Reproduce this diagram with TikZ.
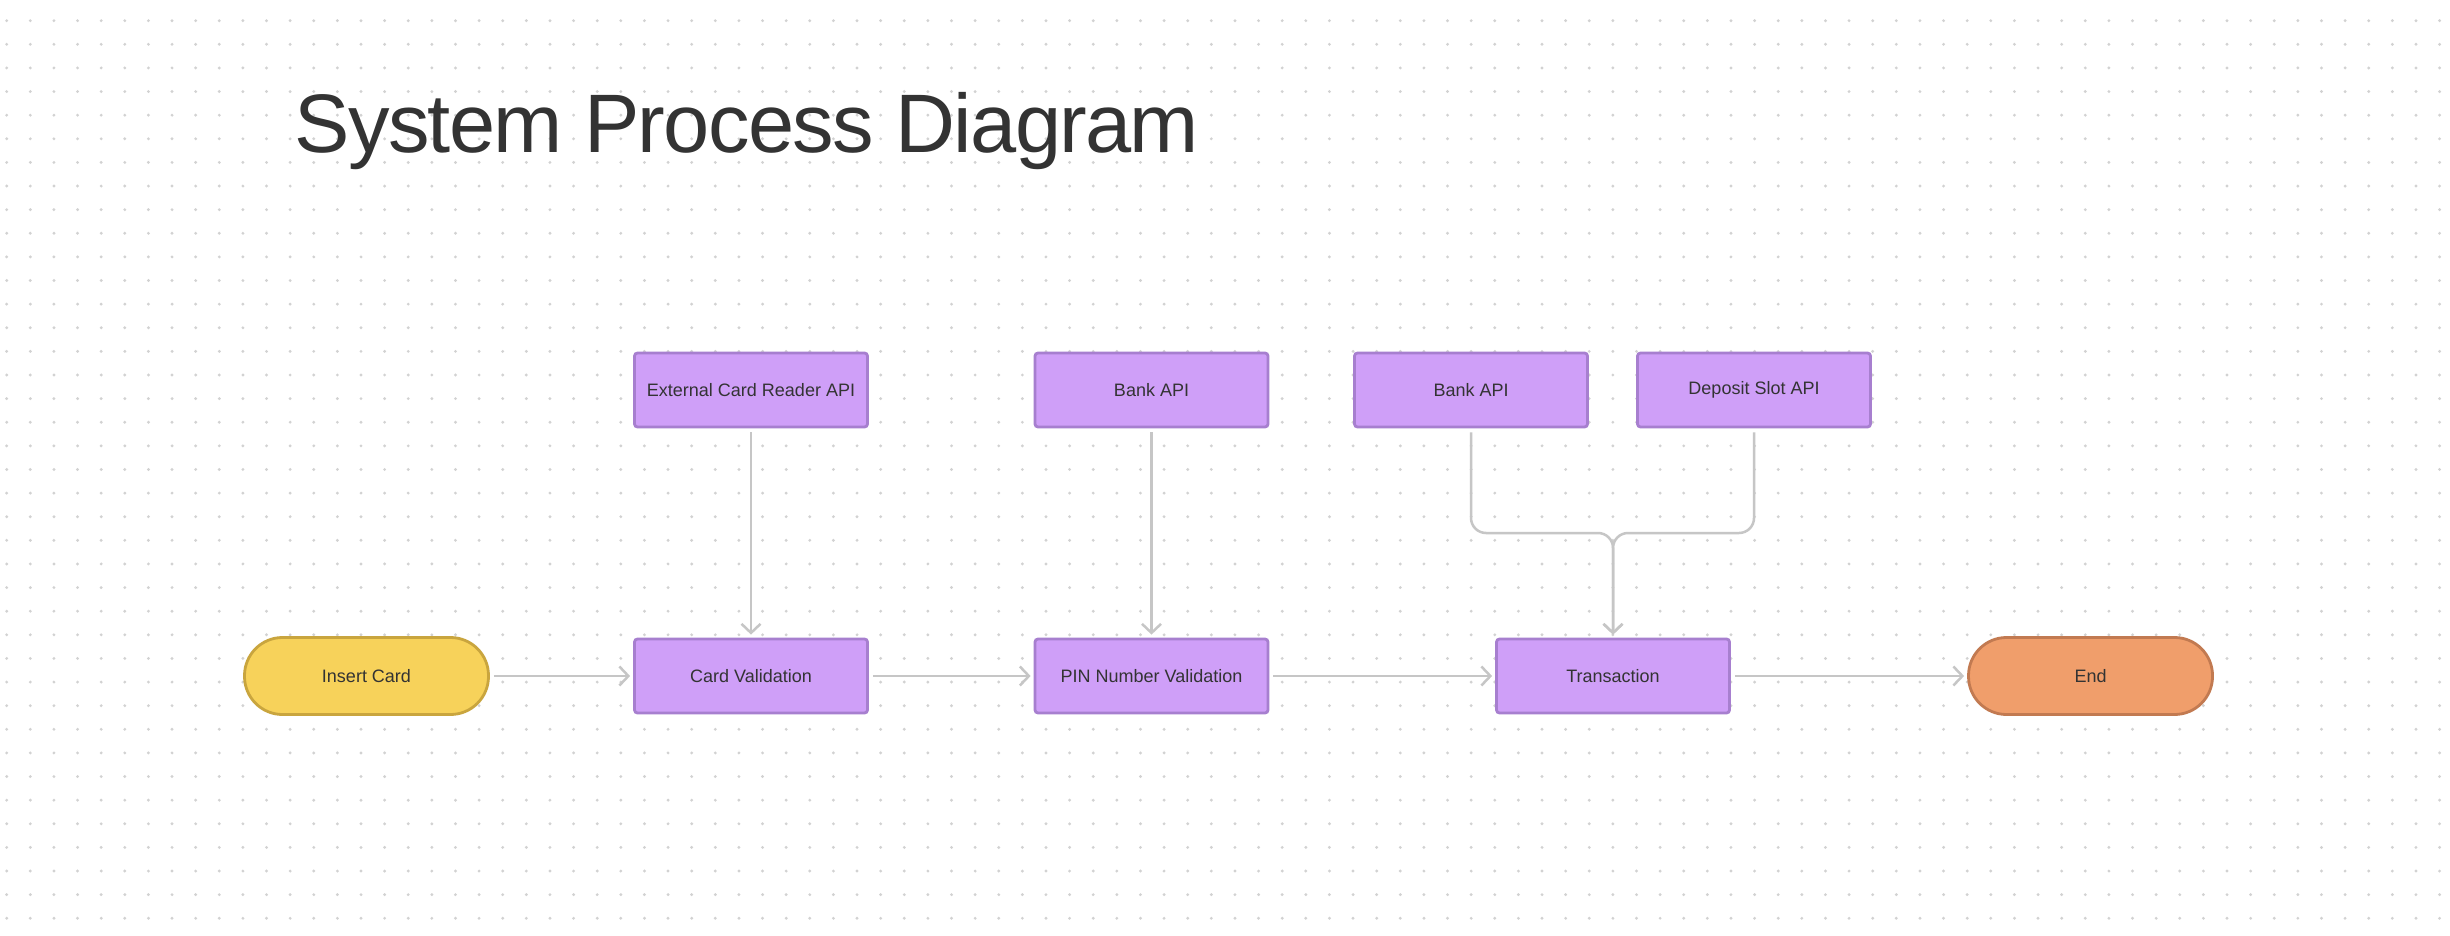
\documentclass[tikz,border=0pt]{standalone}
\usepackage{fontspec}
\setmainfont{Liberation Sans}
\newfontfamily\titlefont[LetterSpace=-2]{Liberation Sans}
\usetikzlibrary{arrows.meta}
\definecolor{dotc}{HTML}{D2D2D2}
\definecolor{txt}{HTML}{333333}
\definecolor{pfill}{HTML}{CF9FF8}
\definecolor{pline}{HTML}{A77FCF}
\definecolor{yfill}{HTML}{F7D25A}
\definecolor{yline}{HTML}{C9A53E}
\definecolor{ofill}{HTML}{F09E6B}
\definecolor{oline}{HTML}{C27A51}
\definecolor{conc}{HTML}{C6C6C6}
\tikzset{
  apibox/.style={draw=pline, fill=pfill, line width=1.4pt, rounded corners=1.5pt,
    minimum width=116.5pt, minimum height=37pt, inner sep=0pt,
    font=\fontsize{9}{11}\selectfont, text=txt},
  pill/.style={line width=1.4pt, rounded corners=19pt,
    minimum width=122pt, minimum height=38.5pt, inner sep=0pt,
    font=\fontsize{9}{11}\selectfont, text=txt},
  startpill/.style={pill, draw=yline, fill=yfill},
  endpill/.style={pill, draw=oline, fill=ofill},
  conn/.style={draw=conc, line width=1.25pt,
    -{Straight Barb[length=4.5pt,width=9.5pt,line width=1.25pt]},
    shorten <=2pt, shorten >=1.5pt},
}
\begin{document}
\begin{tikzpicture}[x=0.5pt,y=-0.5pt]
\useasboundingbox (0,0) rectangle (2450,936);
\fill[white] (0,0) rectangle (2450,936);
\foreach \i in {0,...,103}{
  \foreach \j in {0,...,38}{
    \fill[dotc] ({6.7+\i*23.62},{20.7+\j*23.62}) circle[radius=0.8pt];
  }
}
\node[anchor=base west, inner sep=0pt, text=txt, font=\titlefont\fontsize{41.5}{50}\selectfont] (title) at (294,153) {System Process Diagram};

\node[apibox] (ecr) at (751,390) {External Card Reader API};
\node[apibox] (bank1) at (1151.5,390) {Bank API};
\node[apibox] (bank2) at (1471,390) {Bank API};
\node[apibox] (dep) at (1754,390) {Deposit Slot API};

\node[startpill] (ins) at (366.5,676) {Insert Card};
\node[apibox] (cv) at (751,676) {Card Validation};
\node[apibox] (pin) at (1151.5,676) {PIN Number Validation};
\node[apibox] (tr) at (1613,676) {Transaction};
\node[endpill] (end) at (2090.5,676) {End};

\coordinate (j) at (1613,533);

\draw[conn] (ins) -- (cv);
\draw[conn] (cv) -- (pin);
\draw[conn] (pin) -- (tr);
\draw[conn] (tr) -- (end);
\draw[conn] (ecr) -- (cv);
\draw[conn] (bank1) -- (pin);
\draw[conn, rounded corners=7.5pt] (bank2.south) |- (j) -- (tr.north);
\draw[conn, rounded corners=7.5pt] (dep.south) |- (j) -- (tr.north);
\end{tikzpicture}
\end{document}
